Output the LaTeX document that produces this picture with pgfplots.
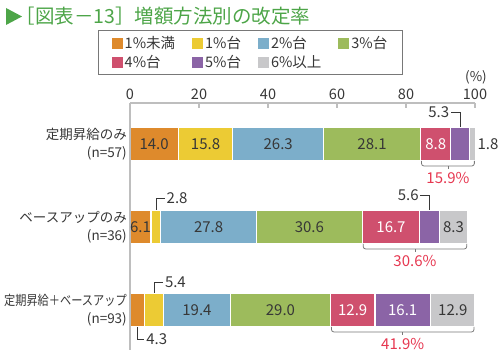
\documentclass[border=0pt]{standalone}
\usepackage{fontspec}
\setmainfont{Noto Sans CJK JP}
\usepackage{graphicx}
\usepackage{pgfplots}
\pgfplotsset{compat=1.18}
\definecolor{cA}{RGB}{222,138,44}
\definecolor{cB}{RGB}{236,203,52}
\definecolor{cC}{RGB}{124,174,202}
\definecolor{cD}{RGB}{157,187,92}
\definecolor{cE}{RGB}{207,80,110}
\definecolor{cF}{RGB}{139,100,166}
\definecolor{cG}{RGB}{200,200,202}
\definecolor{tgreen}{RGB}{77,165,72}
\definecolor{pred}{RGB}{230,55,80}
\definecolor{axgray}{RGB}{190,190,190}
\definecolor{txt}{RGB}{55,55,55}
\definecolor{lgray}{RGB}{120,120,120}
\newcommand\fs[2]{\fontsize{#1}{#2}\selectfont}
\newcommand\C[2]{\coordinate (#1) at (axis cs:#2);}
\newcommand\bl[3]{\node[font=\fs{15}{15}, text=#3, inner sep=0pt] at (#1) {#2};}
% brace: coord x1, coord x2, coord mid, label
\newcommand\brc[4]{%
 \draw[draw=lgray, line width=0.8pt, rounded corners=2.5pt] ([xshift=1pt,yshift=-17pt]#1) -- ([xshift=1pt,yshift=-22pt]#1) -- ([xshift=-1pt,yshift=-22pt]#2) -- ([xshift=-1pt,yshift=-17pt]#2);
 \draw[draw=lgray, line width=0.8pt] ([yshift=-22pt]#3) -- ([yshift=-25pt]#3);
 \node[font=\fs{15}{15}, text=pred, inner sep=0pt] at ([yshift=-34pt]#3) {#4};
}
% leader: coord, start shift, end shift, horizontal shift, anchor, label
\newcommand\lead[6]{%
 \draw[draw=txt, line width=0.7pt] ([yshift=#2]#1) -- ([yshift=#3]#1) -- ([xshift=#4,yshift=#3]#1) node[anchor=#5, inner sep=1.5pt, font=\fs{15}{15}, text=txt] {#6};
}
\begin{document}
\begin{tikzpicture}[x=1pt,y=1pt]
\useasboundingbox (0,0) rectangle (500,352);
\fill[tgreen] (6,344) -- (22,335.5) -- (6,327) -- cycle;
\node[anchor=base west, inner sep=0pt, text=tgreen, font=\fs{19.5}{19.5}] at (15.5,328.5) {［図表－13］増額方法別の改定率};
\begin{axis}[
 at={(130pt,2pt)}, anchor=south west,
 scale only axis, width=345pt, height=247pt,
 xbar stacked, bar width=34pt,
 xmin=0, xmax=100, ymin=0.518, ymax=3.494,
 axis x line*=top, axis y line*=left,
 axis line style={draw=axgray, line width=1.3pt},
 axis on top,
 xtick={0,20,40,60,80,100},
 tick align=inside,
 x tick style={draw=axgray, line width=1.1pt},
 major tick length=5pt,
 ytick={1,2,3},
 y tick style={draw=none},
 yticklabels={{\scalebox{0.83}[1]{定期昇給＋ベースアップ}\\(n=93)},{ベースアップのみ\\(n=36)},{定期昇給のみ\\(n=57)}},
 yticklabel style={align=right, font=\fs{13.5}{18}, text=txt, inner xsep=3pt},
 xticklabel style={font=\fs{14.5}{14.5}, text=txt},
 /pgf/number format/assume math mode=true,
 legend columns=4,
 legend cell align=left,
 legend style={at={(0.3493,1.2955)}, anchor=north, draw=lgray, line width=0.8pt, font=\fs{14.5}{14.5}, text=txt, inner xsep=13pt, inner ysep=4pt, row sep=1pt, /tikz/every even column/.append style={column sep=15pt}},
 legend image code/.code={\path[#1,draw=none] (0pt,-5.5pt) rectangle (11pt,5.5pt);},
 clip=false,
]
\addplot[fill=cA, draw=white, line width=1.2pt] coordinates {(14.0,3) (6.1,2) (4.3,1)};
\addplot[fill=cB, draw=white, line width=1.2pt] coordinates {(15.8,3) (2.8,2) (5.4,1)};
\addplot[fill=cC, draw=white, line width=1.2pt] coordinates {(26.3,3) (27.8,2) (19.4,1)};
\addplot[fill=cD, draw=white, line width=1.2pt] coordinates {(28.1,3) (30.6,2) (29.0,1)};
\addplot[fill=cE, draw=white, line width=1.2pt] coordinates {(8.8,3) (16.7,2) (12.9,1)};
\addplot[fill=cF, draw=white, line width=1.2pt] coordinates {(5.3,3) (5.6,2) (16.1,1)};
\addplot[fill=cG, draw=white, line width=1.2pt] coordinates {(1.8,3) (8.3,2) (12.9,1)};
\legend{1\%未満,1\%台,2\%台,3\%台,4\%台,5\%台,6\%以上}
% bar 1 coordinates
\C{a1}{7.0,3}\C{a2}{21.9,3}\C{a3}{42.95,3}\C{a4}{70.15,3}\C{a5}{88.6,3}
\C{a6}{95.65,3}\C{a7}{100.1,3}\C{ab1}{84.2,3}\C{ab2}{100.1,3}\C{abm}{92.15,3}
% bar 2
\C{b1}{3.05,2}\C{b2}{7.5,2}\C{b3}{22.8,2}\C{b4}{52.0,2}\C{b5}{75.65,2}\C{b6}{86.8,2}\C{b7}{93.75,2}
\C{bb1}{67.3,2}\C{bb2}{97.9,2}\C{bbm}{82.6,2}
% bar 3
\C{c1}{2.15,1}\C{c2}{7.0,1}\C{c3}{19.4,1}\C{c4}{43.6,1}\C{c5}{64.55,1}\C{c6}{79.05,1}\C{c7}{93.55,1}
\C{cb1}{58.1,1}\C{cb2}{100,1}\C{cbm}{79.05,1}
\C{pct}{100,3.494}
\end{axis}
% labels
\bl{a1}{14.0}{txt}\bl{a2}{15.8}{txt}\bl{a3}{26.3}{txt}\bl{a4}{28.1}{txt}\bl{a5}{8.8}{white}
\lead{a6}{17pt}{32pt}{-9pt}{east}{5.3}
\node[anchor=west, inner sep=2pt, font=\fs{15}{15}, text=txt] at (a7) {1.8};
\brc{ab1}{ab2}{abm}{15.9\%}
\bl{b1}{6.1}{txt}\bl{b3}{27.8}{txt}\bl{b4}{30.6}{txt}\bl{b5}{16.7}{white}\bl{b7}{8.3}{txt}
\lead{b2}{17pt}{29pt}{9pt}{west}{2.8}
\lead{b6}{17pt}{32pt}{-9pt}{east}{5.6}
\brc{bb1}{bb2}{bbm}{30.6\%}
\bl{c3}{19.4}{txt}\bl{c4}{29.0}{txt}\bl{c5}{12.9}{white}\bl{c6}{16.1}{white}\bl{c7}{12.9}{txt}
\lead{c1}{-17pt}{-29pt}{7pt}{west}{4.3}
\lead{c2}{17pt}{28pt}{9pt}{west}{5.4}
\brc{cb1}{cb2}{cbm}{41.9\%}
\node[font=\fs{13.5}{13.5}, text=txt, inner sep=0pt] at ([xshift=1pt,yshift=26pt]pct) {(\%)};
\end{tikzpicture}
\end{document}
